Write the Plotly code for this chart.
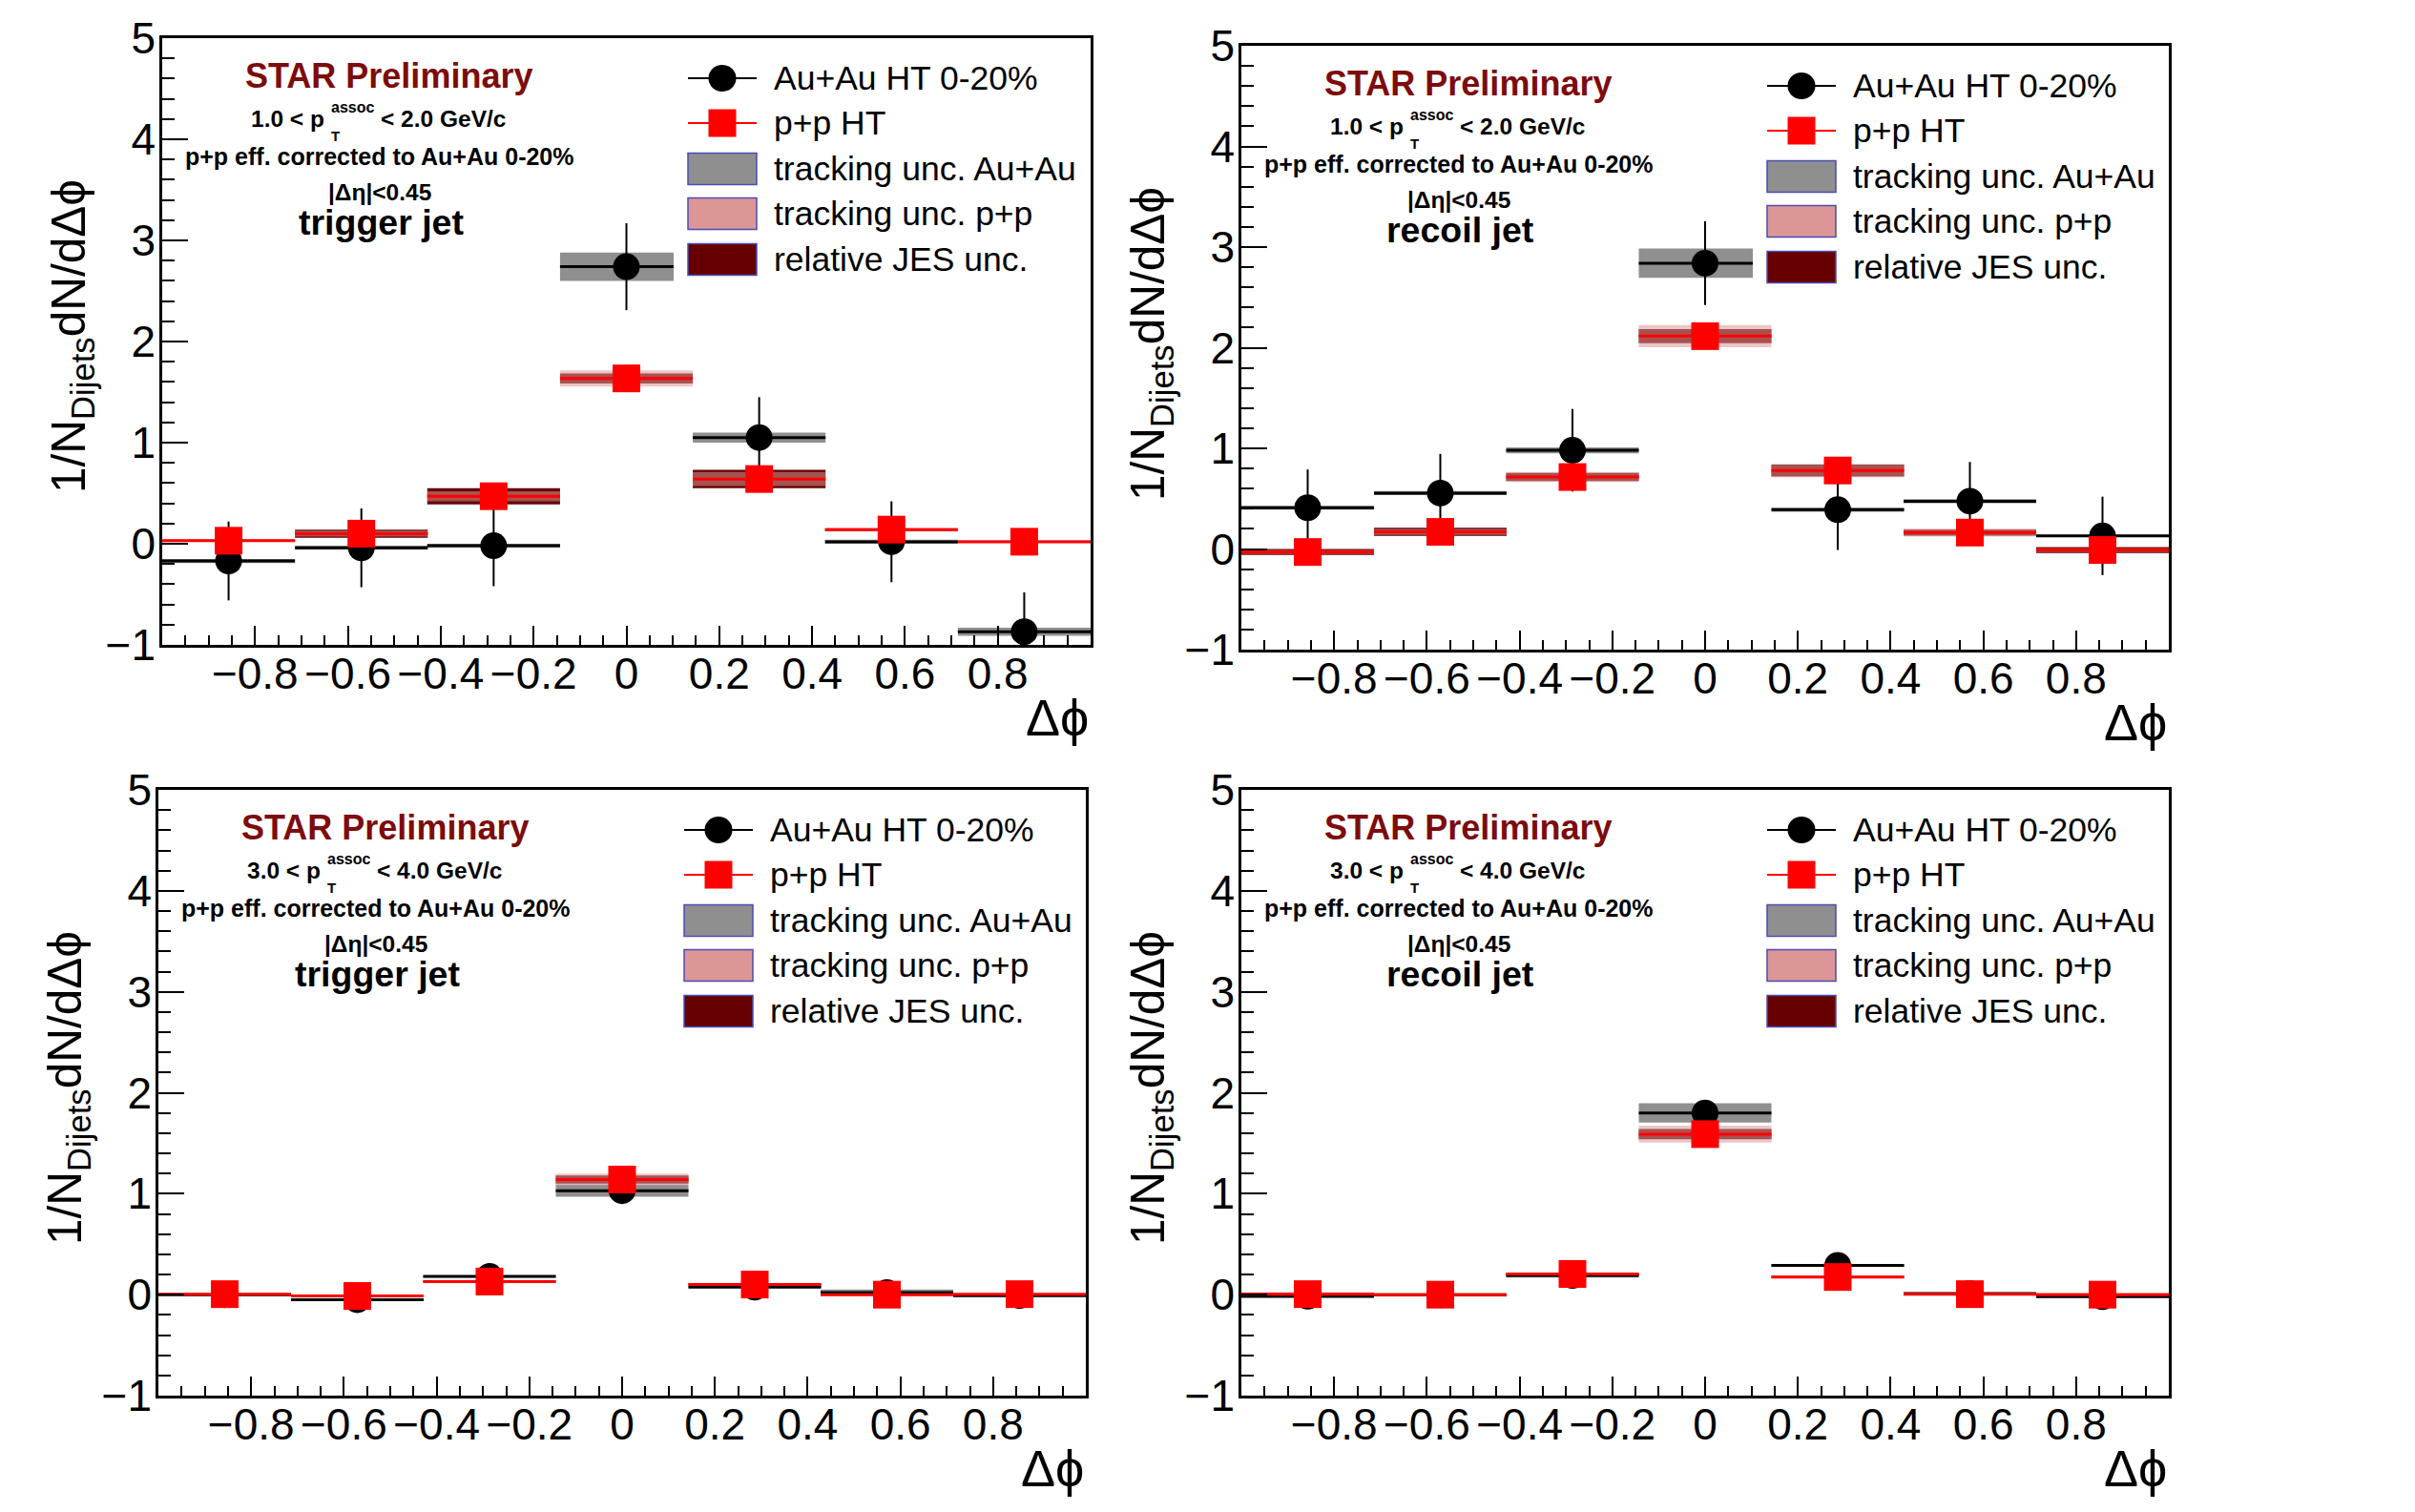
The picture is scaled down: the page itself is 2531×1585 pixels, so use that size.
import plotly.graph_objects as go

W, H = 2531, 1585
FONT = "Liberation Sans, Arial, Helvetica, sans-serif"

# ---------------- data ----------------
phi_centers = [-0.857, -0.571, -0.286, 0.0, 0.286, 0.571, 0.857]
bin_half_width = 0.143
x_tick_vals = [-0.8, -0.6, -0.4, -0.2, 0.0, 0.2, 0.4, 0.6, 0.8]
x_tick_text = ["\u22120.8", "\u22120.6", "\u22120.4", "\u22120.2", "0", "0.2", "0.4", "0.6", "0.8"]

# trigger jet, 1.0 < pT < 2.0
auau_trig_lo = [-0.17, -0.04, -0.02, 2.74, 1.05, 0.02, -0.87]
auau_trig_lo_stat = [0.39, 0.39, 0.40, 0.43, 0.40, 0.40, 0.39]
auau_trig_lo_trk = [0.02, 0.02, 0.02, 0.14, 0.05, 0.02, 0.04]
pp_trig_lo = [0.03, 0.10, 0.47, 1.635, 0.64, 0.14, 0.02]
pp_trig_lo_stat = [0.08, 0.09, 0.10, 0.11, 0.10, 0.09, 0.08]
pp_trig_lo_trk = [0.01, 0.03, 0.05, 0.08, 0.07, 0.02, 0.01]
pp_trig_lo_jes = [0.01, 0.04, 0.08, 0.05, 0.09, 0.01, 0.01]

# recoil jet, 1.0 < pT < 2.0
auau_rec_lo = [0.41, 0.555, 0.98, 2.84, 0.39, 0.475, 0.13]
auau_rec_lo_stat = [0.38, 0.39, 0.41, 0.415, 0.40, 0.39, 0.39]
auau_rec_lo_trk = [0.02, 0.02, 0.03, 0.145, 0.02, 0.02, 0.01]
pp_rec_lo = [-0.03, 0.17, 0.715, 2.115, 0.78, 0.163, -0.01]
pp_rec_lo_stat = [0.08, 0.09, 0.10, 0.11, 0.10, 0.09, 0.08]
pp_rec_lo_trk = [0.02, 0.03, 0.05, 0.11, 0.066, 0.04, 0.02]
pp_rec_lo_jes = [0.03, 0.04, 0.04, 0.07, 0.06, 0.03, 0.03]

# trigger jet, 3.0 < pT < 4.0
auau_trig_hi = [0.0, -0.05, 0.18, 1.03, 0.075, 0.02, -0.01]
auau_trig_hi_stat = [0.05, 0.06, 0.06, 0.08, 0.06, 0.05, 0.05]
auau_trig_hi_trk = [0.005, 0.01, 0.01, 0.06, 0.01, 0.03, 0.005]
pp_trig_hi = [0.005, -0.013, 0.13, 1.14, 0.10, 0.0, 0.005]
pp_trig_hi_stat = [0.03, 0.03, 0.04, 0.06, 0.04, 0.03, 0.03]
pp_trig_hi_trk = [0.005, 0.01, 0.015, 0.06, 0.01, 0.01, 0.005]
pp_trig_hi_jes = [0.005, 0.005, 0.01, 0.04, 0.01, 0.005, 0.005]

# recoil jet, 3.0 < pT < 4.0
auau_rec_hi = [-0.015, 0.0, 0.19, 1.80, 0.29, 0.01, -0.02]
auau_rec_hi_stat = [0.05, 0.05, 0.06, 0.09, 0.07, 0.05, 0.05]
auau_rec_hi_trk = [0.02, 0.01, 0.02, 0.095, 0.015, 0.01, 0.01]
pp_rec_hi = [0.005, 0.0, 0.205, 1.59, 0.175, 0.005, 0.0]
pp_rec_hi_stat = [0.03, 0.03, 0.04, 0.07, 0.04, 0.03, 0.03]
pp_rec_hi_trk = [0.02, 0.01, 0.01, 0.083, 0.01, 0.01, 0.02]
pp_rec_hi_jes = [0.01, 0.005, 0.01, 0.05, 0.01, 0.005, 0.01]

legend_labels = ["Au+Au HT 0-20%", "p+p HT", "tracking unc. Au+Au",
                 "tracking unc. p+p", "relative JES unc."]

# ---------------- styling / layout ----------------
C_GREY = "#8f8f8f"
C_PINK = "#dd9696"
C_JES = "#660000"
C_STAR = "#7d0c0c"
C_LEGBORDER = "#4b4bb5"
PHI = "\u03d5"

panels = [
    dict(frame=(170, 1143, 40, 676), jet="trigger jet", lo="1.0", hi="2.0",
         auau=auau_trig_lo, auau_stat=auau_trig_lo_stat, auau_trk=auau_trig_lo_trk,
         pp=pp_trig_lo, pp_stat=pp_trig_lo_stat, pp_trk=pp_trig_lo_trk, pp_jes=pp_trig_lo_jes),
    dict(frame=(1301, 2273, 48, 681), jet="recoil jet", lo="1.0", hi="2.0",
         auau=auau_rec_lo, auau_stat=auau_rec_lo_stat, auau_trk=auau_rec_lo_trk,
         pp=pp_rec_lo, pp_stat=pp_rec_lo_stat, pp_trk=pp_rec_lo_trk, pp_jes=pp_rec_lo_jes),
    dict(frame=(166, 1138, 828, 1463), jet="trigger jet", lo="3.0", hi="4.0",
         auau=auau_trig_hi, auau_stat=auau_trig_hi_stat, auau_trk=auau_trig_hi_trk,
         pp=pp_trig_hi, pp_stat=pp_trig_hi_stat, pp_trk=pp_trig_hi_trk, pp_jes=pp_trig_hi_jes),
    dict(frame=(1301, 2273, 828, 1463), jet="recoil jet", lo="3.0", hi="4.0",
         auau=auau_rec_hi, auau_stat=auau_rec_hi_stat, auau_trk=auau_rec_hi_trk,
         pp=pp_rec_hi, pp_stat=pp_rec_hi_stat, pp_trk=pp_rec_hi_trk, pp_jes=pp_rec_hi_jes),
]


def X(px):
    return px / W


def Y(py):
    return 1 - py / H


annotations = []
shapes = []
traces = []
layout = dict(width=W, height=H, margin=dict(l=0, r=0, t=0, b=0, autoexpand=False),
              paper_bgcolor="white", plot_bgcolor="white", showlegend=False,
              barmode="overlay")


def text(s, x, y_base, size, anchor="center", color="black", bold=True, angle=0):
    annotations.append(dict(
        text=f"<b>{s}</b>" if bold else s, x=X(x), y=Y(y_base - 0.35 * size),
        xref="paper", yref="paper", xanchor=anchor, yanchor="middle",
        showarrow=False, textangle=angle,
        font=dict(family=FONT, size=size, color=color)))


def sys_bar(vals, sys, color, xa, ya, opacity=1.0):
    return go.Bar(x=phi_centers, y=[2 * s for s in sys],
                  base=[v - s for v, s in zip(vals, sys)],
                  width=[2 * bin_half_width] * len(phi_centers),
                  marker=dict(color=color, line=dict(width=0)), opacity=opacity,
                  xaxis=xa, yaxis=ya, hoverinfo="skip")


for i, p in enumerate(panels):
    n = "" if i == 0 else str(i + 1)
    xa, ya = "x" + n, "y" + n
    L, R, T, B = p["frame"]

    layout["xaxis" + n] = dict(
        domain=[X(L), X(R)], range=[-1, 1], anchor=ya, automargin=False,
        tickmode="array", tickvals=x_tick_vals, ticktext=x_tick_text,
        ticks="inside", ticklen=20, tickwidth=2, tickcolor="black",
        showline=True, mirror=True, linewidth=2.5, linecolor="black",
        showgrid=False, zeroline=False, ticklabelstandoff=-12,
        tickfont=dict(family=FONT, size=46, color="black"),
        minor=dict(tickmode="linear", tick0=0, dtick=0.05, ticks="inside",
                   ticklen=10, tickwidth=2, tickcolor="black", showgrid=False))
    layout["yaxis" + n] = dict(
        domain=[Y(B), Y(T)], range=[-1, 5], anchor=xa, automargin=False,
        tickmode="linear", tick0=0, dtick=1,
        ticks="inside", ticklen=27, tickwidth=2, tickcolor="black",
        showline=True, mirror=True, linewidth=2.5, linecolor="black",
        showgrid=False, zeroline=False, ticklabelstandoff=-5,
        tickfont=dict(family=FONT, size=46, color="black"),
        minor=dict(tickmode="linear", tick0=0, dtick=0.2, ticks="inside",
                   ticklen=13, tickwidth=2, tickcolor="black", showgrid=False))

    # systematic boxes
    traces.append(sys_bar(p["auau"], p["auau_trk"], C_GREY, xa, ya))
    traces.append(sys_bar(p["pp"], p["pp_jes"], C_JES, xa, ya))
    traces.append(sys_bar(p["pp"], p["pp_trk"], C_PINK, xa, ya, opacity=0.55))

    # data points
    traces.append(go.Scatter(
        x=phi_centers, y=p["auau"], mode="markers",
        marker=dict(symbol="circle", size=28, color="black"),
        error_x=dict(type="constant", value=bin_half_width, width=0, thickness=3, color="black"),
        error_y=dict(type="data", array=p["auau_stat"], width=0, thickness=2, color="black"),
        xaxis=xa, yaxis=ya))
    traces.append(go.Scatter(
        x=phi_centers, y=p["pp"], mode="markers",
        marker=dict(symbol="square", size=29, color="#ff0000"),
        error_x=dict(type="constant", value=bin_half_width, width=0, thickness=3, color="#ff0000"),
        error_y=dict(type="data", array=p["pp_stat"], width=0, thickness=2, color="#ff0000"),
        xaxis=xa, yaxis=ya))

    # axis titles
    text(f"1/N<sub>Dijets</sub>dN/dΔ{PHI}", L - 95, T + 313 + 0.35 * 49.5, 49.5,
         bold=False, angle=-90)
    text(f"Δ{PHI}", R, B + 95, 54, anchor="right", bold=False)

    # in-panel labels
    text("STAR Preliminary", L + 237, T + 52, 36, color=C_STAR)
    text(f"{p['lo']} &lt; p", L + 172, T + 93, 24.5, anchor="right")
    text("assoc", L + 175, T + 78, 16, anchor="left")
    text("T", L + 175, T + 108, 15, anchor="left")
    text(f"&lt; {p['hi']} GeV/c", L + 227, T + 93, 24.5, anchor="left")
    text("p+p eff. corrected to Au+Au 0-20%", L + 228, T + 133, 25)
    text("|Δη|&lt;0.45", L + 228, T + 170, 24.5)
    text(p["jet"], L + 229, T + 206, 37.5)

    # legend (white box + entries)
    shapes.append(dict(type="rect", xref="paper", yref="paper", layer="above",
                       x0=X(L + 536), x1=X(R - 2), y0=Y(T + 268), y1=Y(T + 2),
                       fillcolor="white", line=dict(width=0)))
    ys = [T + 42, T + 89, T + 137, T + 184, T + 232]
    sx0, sx1, sxc = L + 551, L + 623, L + 587
    # entry 1
    shapes.append(dict(type="line", xref="paper", yref="paper", layer="above",
                       x0=X(sx0), x1=X(sx1), y0=Y(ys[0]), y1=Y(ys[0]),
                       line=dict(color="black", width=2)))
    shapes.append(dict(type="circle", xref="paper", yref="paper", layer="above",
                       x0=X(sxc - 14.5), x1=X(sxc + 14.5), y0=Y(ys[0] + 14), y1=Y(ys[0] - 14),
                       fillcolor="black", line=dict(width=0)))
    # entry 2
    shapes.append(dict(type="line", xref="paper", yref="paper", layer="above",
                       x0=X(sx0), x1=X(sx1), y0=Y(ys[1]), y1=Y(ys[1]),
                       line=dict(color="#ff0000", width=2)))
    shapes.append(dict(type="rect", xref="paper", yref="paper", layer="above",
                       x0=X(sxc - 14.5), x1=X(sxc + 14.5), y0=Y(ys[1] + 14.5), y1=Y(ys[1] - 14.5),
                       fillcolor="#ff0000", line=dict(width=0)))
    # box entries
    for yy, col in zip(ys[2:], [C_GREY, C_PINK, C_JES]):
        shapes.append(dict(type="rect", xref="paper", yref="paper", layer="above",
                           x0=X(sx0), x1=X(sx1), y0=Y(yy + 16.5), y1=Y(yy - 16.5),
                           fillcolor=col, line=dict(color=C_LEGBORDER, width=1.5)))
    for yy, lab in zip(ys, legend_labels):
        annotations.append(dict(text=lab, x=X(L + 639), y=Y(yy), xref="paper", yref="paper",
                                xanchor="left", yanchor="middle", showarrow=False,
                                font=dict(family=FONT, size=35.5, color="black")))

layout["annotations"] = annotations
layout["shapes"] = shapes

fig = go.Figure(data=traces, layout=layout)
fig.write_html("out.html")
